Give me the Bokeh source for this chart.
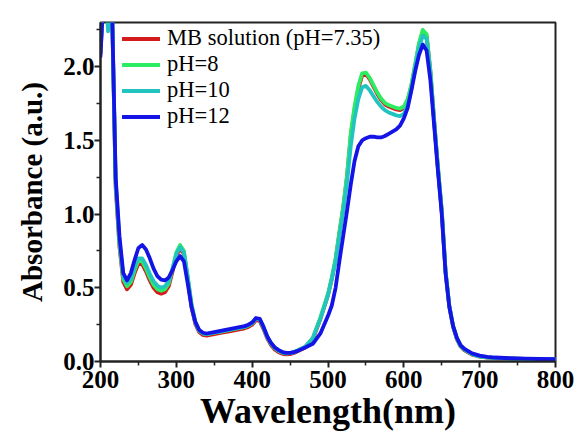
from bokeh.plotting import figure
from bokeh.models import FixedTicker, PrintfTickFormatter, Legend, LegendItem
from bokeh.embed import file_html
from bokeh.resources import INLINE

wavelength = [200, 205, 210, 215, 220, 225, 230, 235, 240, 245, 250, 255, 260, 265, 270, 275,
              280, 285, 290, 295, 300, 305, 310, 315, 320, 325, 330, 335, 340, 350, 360, 370,
              380, 390, 395, 400, 405, 410, 415, 420, 425, 430, 435, 440, 445, 450, 455, 460,
              470, 480, 490, 500, 505, 510, 515, 520, 525, 530, 535, 540, 545, 550, 555, 560,
              565, 570, 575, 580, 585, 590, 595, 600, 605, 610, 615, 620, 625, 630, 635, 640,
              645, 650, 655, 660, 665, 670, 675, 680, 690, 700, 710, 720, 740, 760, 780, 800]

mb_ph735 = [2.09, 2.6, 2.6, 2.45, 1.18, 0.78, 0.54, 0.49, 0.52, 0.60, 0.665, 0.66, 0.61, 0.55, 0.50, 0.47,
            0.46, 0.47, 0.51, 0.61, 0.72, 0.765, 0.73, 0.56, 0.37, 0.255, 0.20, 0.18, 0.175, 0.185, 0.195, 0.205,
            0.215, 0.225, 0.235, 0.25, 0.28, 0.275, 0.22, 0.155, 0.11, 0.08, 0.063, 0.052, 0.048, 0.05, 0.058, 0.07,
            0.095, 0.15, 0.29, 0.45, 0.56, 0.69, 0.87, 1.04, 1.25, 1.53, 1.71, 1.85, 1.94, 1.95, 1.915, 1.865,
            1.815, 1.775, 1.745, 1.73, 1.72, 1.71, 1.705, 1.72, 1.77, 1.87, 2.01, 2.15, 2.235, 2.21, 1.97, 1.63,
            1.31, 1.02, 0.61, 0.37, 0.235, 0.15, 0.10, 0.075, 0.047, 0.033, 0.027, 0.023, 0.019, 0.017, 0.015, 0.014]

ph8 = [2.10, 2.6, 2.6, 2.45, 1.20, 0.80, 0.56, 0.51, 0.54, 0.62, 0.685, 0.68, 0.63, 0.57, 0.52, 0.49,
       0.48, 0.49, 0.53, 0.63, 0.74, 0.79, 0.75, 0.58, 0.39, 0.27, 0.21, 0.19, 0.185, 0.195, 0.205, 0.215,
       0.225, 0.235, 0.245, 0.26, 0.29, 0.285, 0.23, 0.165, 0.12, 0.09, 0.072, 0.06, 0.055, 0.057, 0.064, 0.075,
       0.10, 0.16, 0.30, 0.46, 0.57, 0.70, 0.88, 1.05, 1.26, 1.55, 1.73, 1.87, 1.955, 1.96, 1.925, 1.875,
       1.825, 1.785, 1.755, 1.74, 1.73, 1.72, 1.715, 1.73, 1.78, 1.88, 2.02, 2.16, 2.25, 2.22, 1.98, 1.64,
       1.32, 1.03, 0.62, 0.38, 0.24, 0.155, 0.105, 0.08, 0.05, 0.035, 0.028, 0.024, 0.02, 0.018, 0.016, 0.015]

ph10 = [2.12, 2.6, 2.24, 2.45, 1.22, 0.82, 0.58, 0.53, 0.56, 0.64, 0.70, 0.70, 0.655, 0.595, 0.545, 0.515,
        0.50, 0.51, 0.545, 0.63, 0.73, 0.775, 0.74, 0.57, 0.385, 0.265, 0.21, 0.19, 0.185, 0.195, 0.205, 0.215,
        0.225, 0.235, 0.245, 0.26, 0.29, 0.285, 0.23, 0.165, 0.12, 0.09, 0.072, 0.06, 0.055, 0.057, 0.064, 0.075,
        0.10, 0.16, 0.29, 0.45, 0.56, 0.68, 0.85, 1.02, 1.21, 1.46, 1.65, 1.78, 1.86, 1.87, 1.84, 1.80,
        1.76, 1.73, 1.705, 1.69, 1.68, 1.67, 1.665, 1.68, 1.74, 1.85, 2.0, 2.13, 2.21, 2.19, 1.96, 1.63,
        1.31, 1.02, 0.61, 0.375, 0.24, 0.155, 0.105, 0.08, 0.05, 0.035, 0.028, 0.024, 0.02, 0.018, 0.016, 0.015]

ph12 = [2.07, 2.6, 2.6, 2.45, 1.25, 0.85, 0.60, 0.55, 0.60, 0.69, 0.77, 0.79, 0.76, 0.70, 0.63, 0.58,
        0.555, 0.55, 0.57, 0.62, 0.68, 0.715, 0.68, 0.53, 0.37, 0.27, 0.215, 0.195, 0.19, 0.20, 0.21, 0.22,
        0.23, 0.24, 0.25, 0.265, 0.295, 0.29, 0.235, 0.17, 0.125, 0.095, 0.077, 0.064, 0.058, 0.058, 0.063, 0.072,
        0.095, 0.12, 0.19, 0.31, 0.38, 0.50, 0.68, 0.85, 1.02, 1.20, 1.36, 1.46, 1.50, 1.515, 1.525, 1.525,
        1.52, 1.52, 1.53, 1.545, 1.56, 1.575, 1.60, 1.65, 1.72, 1.84, 1.97, 2.08, 2.15, 2.11, 1.91, 1.60,
        1.29, 1.00, 0.60, 0.37, 0.24, 0.16, 0.11, 0.085, 0.055, 0.04, 0.032, 0.027, 0.022, 0.019, 0.017, 0.016]

series_labels = ["MB solution (pH=7.35)", "pH=8", "pH=10", "pH=12"]
series_colors = ["#d41a1a", "#2ced62", "#22c4c0", "#1414e6"]

x_major = [200, 300, 400, 500, 600, 700, 800]
x_minor = [250, 350, 450, 550, 650, 750]
y_major = [0.0, 0.5, 1.0, 1.5, 2.0]
y_minor = [0.25, 0.75, 1.25, 1.75, 2.25]

FONT = "Liberation Serif"

p = figure(width=579, height=435, x_range=(200, 800), y_range=(0, 2.3),
           output_backend="svg", toolbar_location=None,
           min_border_left=100, min_border_right=24, min_border_top=22, min_border_bottom=74)
p.grid.visible = False
p.outline_line_color = "#222222"
p.outline_line_width = 2
p.background_fill_color = "white"
p.border_fill_color = "white"

items = []
for ys, lab, col in zip([mb_ph735, ph8, ph10, ph12], series_labels, series_colors):
    r = p.line(wavelength, ys, line_color=col, line_width=3.8, line_join="round", line_cap="round")
    items.append(LegendItem(label=lab, renderers=[r]))

p.xaxis.ticker = FixedTicker(ticks=x_major, minor_ticks=x_minor)
p.yaxis.ticker = FixedTicker(ticks=y_major, minor_ticks=y_minor)
p.yaxis.formatter = PrintfTickFormatter(format="%.1f")

for ax in [p.xaxis[0], p.yaxis[0]]:
    ax.axis_line_width = 2
    ax.axis_line_color = "#222222"
    ax.major_tick_line_width = 2
    ax.major_tick_line_color = "#222222"
    ax.minor_tick_line_width = 1.5
    ax.minor_tick_line_color = "#222222"
    ax.major_tick_in = 0
    ax.major_tick_out = 6
    ax.minor_tick_in = 0
    ax.minor_tick_out = 4
    ax.major_label_text_font = FONT
    ax.major_label_text_font_style = "bold"
    ax.major_label_text_font_size = "25px"
    ax.major_label_text_color = "black"
    ax.axis_label_text_font = FONT
    ax.axis_label_text_font_style = "bold"
    ax.axis_label_text_color = "black"

p.xaxis.major_label_standoff = 3
p.yaxis.major_label_standoff = 0
p.xaxis.axis_label = "Wavelength(nm)"
p.xaxis.axis_label_text_font_size = "36px"
p.xaxis.axis_label_standoff = 0
p.yaxis.axis_label = "Absorbance (a.u.)"
p.yaxis.axis_label_text_font_size = "29px"
p.yaxis.axis_label_standoff = 12

legend = Legend(items=items, location=(22, 232))
legend.label_text_font = FONT
legend.label_text_font_size = "22.5px"
legend.label_text_color = "black"
legend.glyph_width = 38
legend.glyph_height = 25
legend.label_height = 25
legend.label_standoff = 7
legend.spacing = 0
legend.padding = 0
legend.margin = 0
legend.border_line_alpha = 0
legend.background_fill_alpha = 0
p.add_layout(legend)

open("out.html", "w").write(file_html(p, INLINE))
